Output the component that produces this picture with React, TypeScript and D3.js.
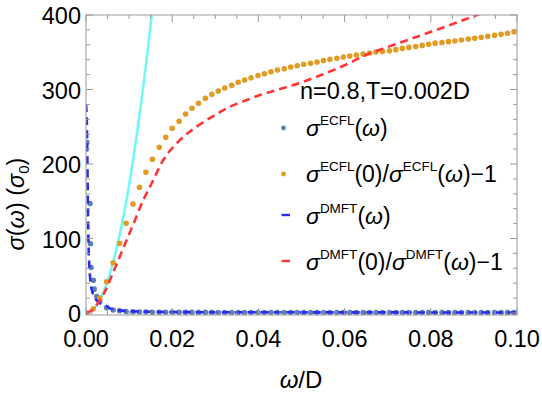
import React from 'react';
import * as d3 from 'd3';

// ECFL frequency grid (ω/D) shared by both ECFL series
const ecflOmega = [
  0.0002, 0.0017, 0.0032, 0.0048, 0.0063, 0.0078, 0.0093, 0.0109, 0.0124, 0.0139,
  0.0154, 0.0170, 0.0185, 0.0200, 0.0216, 0.0231, 0.0246, 0.0261, 0.0277, 0.0292,
  0.0307, 0.0322, 0.0338, 0.0353, 0.0368, 0.0383, 0.0399, 0.0414, 0.0429, 0.0444,
  0.0460, 0.0475, 0.0490, 0.0505, 0.0521, 0.0536, 0.0551, 0.0566, 0.0582, 0.0597,
  0.0612, 0.0627, 0.0643, 0.0658, 0.0673, 0.0688, 0.0704, 0.0719, 0.0734, 0.0749,
  0.0765, 0.0780, 0.0795, 0.0810, 0.0826, 0.0841, 0.0856, 0.0871, 0.0887, 0.0902,
  0.0917, 0.0932, 0.0948, 0.0963, 0.0978, 0.0993,
];

const ecflSigma = [
  229, 44, 16, 7, 4, 3, 1.9, 1.6, 1.36, 1.2,
  1.1, 1.03, 0.97, 0.92, 0.89, 0.86, 0.83, 0.81, 0.79, 0.78,
  0.77, 0.76, 0.75, 0.74, 0.73, 0.72, 0.72, 0.71, 0.71, 0.70,
  0.70, 0.69, 0.69, 0.69, 0.68, 0.68, 0.68, 0.67, 0.67, 0.67,
  0.66, 0.66, 0.66, 0.66, 0.65, 0.65, 0.65, 0.65, 0.64, 0.64,
  0.64, 0.64, 0.63, 0.63, 0.63, 0.63, 0.63, 0.62, 0.62, 0.62,
  0.62, 0.62, 0.61, 0.61, 0.61, 0.61,
];

const ecflRatio = [
  0, 5.8, 20, 42, 67.5, 93.5, 120.4, 146.3, 168.7, 188.9,
  206.3, 222.4, 235.8, 247.9, 257.3, 267.1, 274.8, 281.5, 288.2, 293.6,
  298.0, 302.0, 305.6, 309.7, 312.8, 315.8, 318.8, 321.2, 323.9, 326.2,
  327.9, 330.2, 331.9, 333.8, 335.2, 336.9, 338.7, 340.5, 341.9, 343.6,
  345.0, 346.3, 347.7, 349.0, 350.3, 351.0, 352.0, 353.5, 355.2, 356.5,
  357.8, 359.2, 360.8, 362.2, 363.0, 364.2, 365.2, 366.4, 367.7, 368.8,
  370.0, 371.4, 372.7, 374.0, 375.5, 377.5,
];

// extra low-frequency ECFL conductivity points
const ecflOmegaFine = [0.00093, 0.00104, 0.00118, 0.0019, 0.0025];
const ecflSigmaFine = [147, 93, 61, 32, 22];

// DMFT conductivity
const dmftOmega = [
  0, 0.0002, 0.0003, 0.0004, 0.0005, 0.0006, 0.0008, 0.001, 0.0015, 0.002,
  0.003, 0.004, 0.005, 0.0056, 0.0075, 0.01, 0.015, 0.02, 0.03, 0.05, 0.07, 0.1,
];
const dmftSigma = [
  280, 255, 215, 165, 120, 90, 60, 44, 28, 21,
  14, 10.8, 8.5, 6.2, 3.9, 2.6, 1.6, 1.27, 1.04, 0.9, 0.79, 0.66,
];

// DMFT σ(0)/σ(ω) − 1
const dmftRatioOmega = [
  0, 0.0015, 0.00325, 0.0045, 0.00557, 0.0075, 0.00944, 0.01137, 0.0133, 0.01485,
  0.01794, 0.0218, 0.02568, 0.02954, 0.03341, 0.03729, 0.04037, 0.0458, 0.0497, 0.0535,
  0.0574, 0.0613, 0.0652, 0.069, 0.0759, 0.0837, 0.0907, 0.1,
];
const dmftRatio = [
  0, 4, 17.4, 30, 44.3, 71.1, 98, 124.8, 151.7, 169.5,
  205.4, 232.2, 250.1, 264.4, 276.9, 285.9, 292.6, 302, 309, 317,
  326, 336, 347, 355, 369, 385, 400, 421,
];

// low-frequency quadratic fit
const fitOmega = [0, 0.002, 0.004, 0.006, 0.008, 0.010, 0.012, 0.014, 0.0155];
const fitValue = [0, 6.9, 27.5, 62, 110, 172, 248, 337, 413];

const xTicks = [0, 0.02, 0.04, 0.06, 0.08, 0.1];
const yTicks = [0, 100, 200, 300, 400];

const W = 542;
const H = 396;
const left = 86;
const right = 517;
const top = 15;
const bottom = 315;

const FONT = "'Liberation Sans', Arial, sans-serif";
const BLUE_DOT = '#5e81b5';
const ORANGE_DOT = '#e19c24';
const BLUE_DASH = '#2b2bf5';
const RED_DASH = '#ff3535';
const CYAN = '#72f7f7';
const FRAME = '#9a9a9a';

const App: React.FC = () => {
  const x = d3.scaleLinear().domain([0, 0.1]).range([left, right]);
  const y = d3.scaleLinear().domain([0, 400]).range([313, top]);

  const line = d3.line<[number, number]>()
    .x(d => x(d[0]))
    .y(d => y(d[1]))
    .curve(d3.curveMonotoneX);

  const zip = (a: number[], b: number[]) => a.map((v, i) => [v, b[i]] as [number, number]);

  const blueDots = zip(ecflOmega, ecflSigma).concat(zip(ecflOmegaFine, ecflSigmaFine));
  const orangeDots = zip(ecflOmega, ecflRatio);

  const xMinor = d3.range(0, 0.1001, 0.005).filter(v => !xTicks.some(t => Math.abs(t - v) < 1e-9));
  const yMinor = d3.range(0, 401, 20).filter(v => v % 100 !== 0);

  const fmtX = d3.format('.2f');

  const legendX = 306;
  const rows = [136, 182, 224, 270];
  const sup = { fontSize: 13.5 };

  return (
    <div style={{ position: 'absolute', left: 0, top: 0 }}>
      <svg width={W} height={H} style={{ display: 'block', background: '#fff' }} fontFamily={FONT}>
        <defs>
          <clipPath id="plot-area">
            <rect x={left} y={top} width={right - left} height={bottom - top} />
          </clipPath>
        </defs>

        <g clipPath="url(#plot-area)">
          <path d={line(zip(fitOmega, fitValue)) || ''} fill="none" stroke={CYAN} strokeWidth={2.6} />
          {blueDots.map((d, i) => (
            <circle key={'b' + i} cx={x(d[0])} cy={y(d[1])} r={2.8} fill={BLUE_DOT} />
          ))}
          {orangeDots.map((d, i) => (
            <circle key={'o' + i} cx={x(d[0])} cy={y(d[1])} r={2.8} fill={ORANGE_DOT} />
          ))}
          <path d={line(zip(dmftOmega, dmftSigma)) || ''} fill="none" stroke={BLUE_DASH}
            strokeWidth={2.6} strokeDasharray="8,5" />
          <path d={line(zip(dmftRatioOmega, dmftRatio)) || ''} fill="none" stroke={RED_DASH}
            strokeWidth={2.6} strokeDasharray="8,5" />
        </g>

        {/* frame */}
        <rect x={left} y={top} width={right - left} height={bottom - top} fill="none" stroke={FRAME} strokeWidth={1} />

        {/* ticks on all four sides */}
        {xTicks.map(t => (
          <g key={'xt' + t} stroke={FRAME}>
            <line x1={x(t)} x2={x(t)} y1={bottom} y2={bottom - 7} />
            <line x1={x(t)} x2={x(t)} y1={top} y2={top + 7} />
          </g>
        ))}
        {xMinor.map(t => (
          <g key={'xm' + t} stroke={FRAME}>
            <line x1={x(t)} x2={x(t)} y1={bottom} y2={bottom - 4} />
            <line x1={x(t)} x2={x(t)} y1={top} y2={top + 4} />
          </g>
        ))}
        {yTicks.map(t => (
          <g key={'yt' + t} stroke={FRAME}>
            <line x1={left} x2={left + 7} y1={y(t)} y2={y(t)} />
            <line x1={right} x2={right - 7} y1={y(t)} y2={y(t)} />
          </g>
        ))}
        {yMinor.map(t => (
          <g key={'ym' + t} stroke={FRAME}>
            <line x1={left} x2={left + 4} y1={y(t)} y2={y(t)} />
            <line x1={right} x2={right - 4} y1={y(t)} y2={y(t)} />
          </g>
        ))}

        {/* tick labels */}
        {xTicks.map(t => (
          <text key={'xl' + t} x={x(t)} y={347} textAnchor="middle" fontSize={23.5} fill="#000">
            {fmtX(t)}
          </text>
        ))}
        {yTicks.map(t => (
          <text key={'yl' + t} x={81} y={y(t) + 9} textAnchor="end" fontSize={23.5} fill="#000">
            {t}
          </text>
        ))}

        {/* axis labels */}
        <text x={301} y={388} textAnchor="middle" fontSize={24}>
          <tspan fontStyle="italic">ω</tspan>/D
        </text>
        <text transform="translate(24,204) rotate(-90)" textAnchor="middle" fontSize={23.5}>
          <tspan fontStyle="italic">σ</tspan>(<tspan fontStyle="italic">ω</tspan>) (<tspan fontStyle="italic">σ</tspan>
          <tspan fontSize={15} dy={5}>0</tspan><tspan dy={-5}>)</tspan>
        </text>

        {/* legend */}
        <text x={300} y={99} fontSize={23.5}>n=0.8,T=0.002D</text>

        <circle cx={283.5} cy={rows[0] - 8} r={2.4} fill={BLUE_DOT} />
        <circle cx={283.5} cy={rows[1] - 8} r={2.4} fill={ORANGE_DOT} />
        <line x1={281.5} x2={290} y1={rows[2] - 9} y2={rows[2] - 9} stroke={BLUE_DASH} strokeWidth={2.4} />
        <line x1={281.5} x2={290} y1={rows[3] - 9} y2={rows[3] - 9} stroke={RED_DASH} strokeWidth={2.4} />

        <text x={legendX} y={rows[0]} fontSize={23}>
          <tspan fontStyle="italic">σ</tspan>
          <tspan {...sup} dy={-11}>ECFL</tspan>
          <tspan dy={11}>(</tspan><tspan fontStyle="italic">ω</tspan>)
        </text>
        <text x={legendX} y={rows[1]} fontSize={23}>
          <tspan fontStyle="italic">σ</tspan>
          <tspan {...sup} dy={-11}>ECFL</tspan>
          <tspan dy={11}>(0)/</tspan><tspan fontStyle="italic">σ</tspan>
          <tspan {...sup} dy={-11}>ECFL</tspan>
          <tspan dy={11}>(</tspan><tspan fontStyle="italic">ω</tspan>)−1
        </text>
        <text x={legendX} y={rows[2]} fontSize={23}>
          <tspan fontStyle="italic">σ</tspan>
          <tspan {...sup} dy={-11}>DMFT</tspan>
          <tspan dy={11}>(</tspan><tspan fontStyle="italic">ω</tspan>)
        </text>
        <text x={legendX} y={rows[3]} fontSize={23}>
          <tspan fontStyle="italic">σ</tspan>
          <tspan {...sup} dy={-11}>DMFT</tspan>
          <tspan dy={11}>(0)/</tspan><tspan fontStyle="italic">σ</tspan>
          <tspan {...sup} dy={-11}>DMFT</tspan>
          <tspan dy={11}>(</tspan><tspan fontStyle="italic">ω</tspan>)−1
        </text>
      </svg>
    </div>
  );
};

export default App;
